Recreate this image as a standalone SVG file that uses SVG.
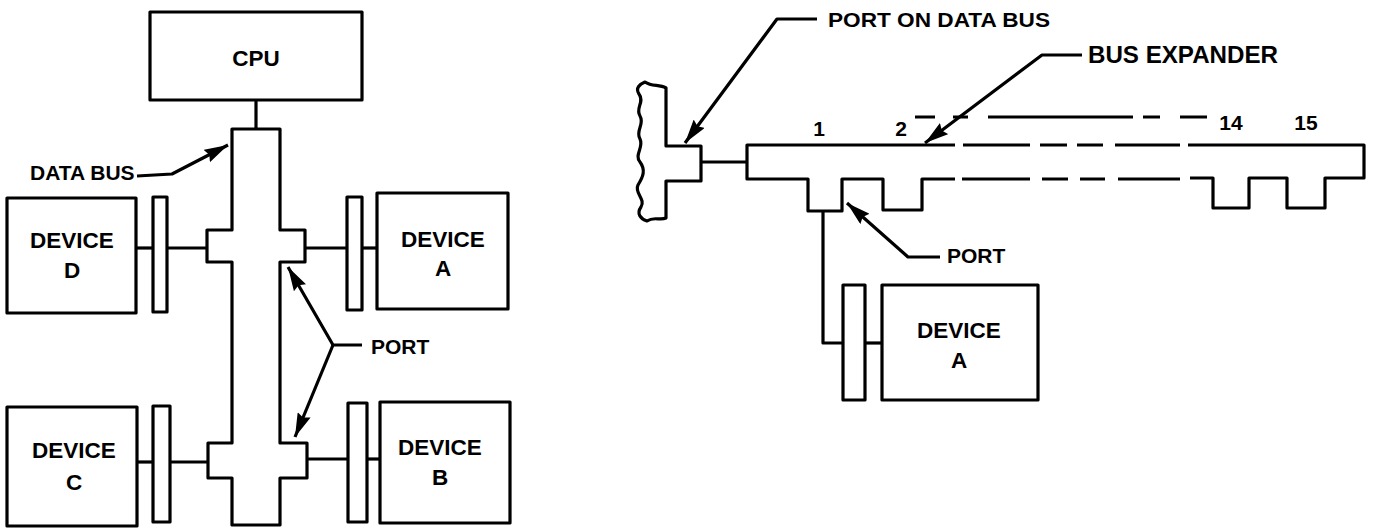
<svg xmlns="http://www.w3.org/2000/svg" width="1377" height="529" viewBox="0 0 1377 529">
<defs>
<style>
.s{fill:#fff;stroke:#000;stroke-width:3.2;stroke-linejoin:round}
.l{fill:none;stroke:#000;stroke-width:3.2;stroke-linejoin:round;stroke-linecap:butt}
.t{font-family:"Liberation Sans",Arial,sans-serif;font-weight:bold;font-size:21px;fill:#000}
.d{font-size:22.5px}
.c{text-anchor:middle}
</style>
<marker id="ah" viewBox="0 0 24 14" refX="24" refY="7" markerWidth="24" markerHeight="14" markerUnits="userSpaceOnUse" orient="auto">
<path d="M0,0 L24,7 L0,14 L3,7 Z" fill="#000"/>
</marker>
</defs>
<rect width="1377" height="529" fill="#fff"/>

<g id="connectors">
<line class="l" x1="256" y1="101" x2="256" y2="129"/>
<line class="l" x1="136" y1="248" x2="153" y2="248"/>
<line class="l" x1="167" y1="248" x2="207" y2="248"/>
<line class="l" x1="305" y1="248" x2="347" y2="248"/>
<line class="l" x1="362" y1="248" x2="377" y2="248"/>
<line class="l" x1="137" y1="462" x2="153" y2="462"/>
<line class="l" x1="170" y1="462" x2="208" y2="462"/>
<line class="l" x1="307" y1="459" x2="348" y2="459"/>
<line class="l" x1="367" y1="459" x2="380" y2="459"/>
<polyline class="l" points="137,176 172,174 228,145" marker-end="url(#ah)"/>
<polyline class="l" points="362,345 333,345 288,267" marker-end="url(#ah)"/>
<line class="l" x1="333" y1="345" x2="295" y2="437" marker-end="url(#ah)"/>
<line class="l" x1="701" y1="162" x2="747" y2="162"/>
<polyline class="l" points="823,211 823,343 843,343"/>
<line class="l" x1="865" y1="343" x2="882" y2="343"/>
<polyline class="l" points="817,19 777,19 685,143" marker-end="url(#ah)"/>
<polyline class="l" points="1082,55 1042,55 925,143" marker-end="url(#ah)"/>
<polyline class="l" points="940,257 908,257 847,203" marker-end="url(#ah)"/>
</g>

<g id="cpu">
<rect class="s" x="150" y="12" width="212" height="88"/>
<text class="t d c" x="256" y="66">CPU</text>
</g>

<g id="data-bus">
<path class="s" d="M232,129 L280,129 L280,230 L305,230 L305,262 L280,262 L280,443 L307,443 L307,478 L280,478 L280,525 L232,525 L232,478 L208,478 L208,443 L232,443 L232,262 L207,262 L207,230 L232,230 Z"/>
<text class="t" x="30" y="180">DATA BUS</text>
</g>

<g id="device-d">
<rect class="s" x="7" y="198" width="129" height="115"/>
<rect class="s" x="153" y="197" width="14" height="115"/>
<text class="t d c" x="72" y="248">DEVICE</text>
<text class="t d c" x="72" y="278">D</text>
</g>

<g id="device-a-left">
<rect class="s" x="377" y="193" width="131" height="116"/>
<rect class="s" x="347" y="197" width="15" height="113"/>
<text class="t d c" x="443" y="247">DEVICE</text>
<text class="t d c" x="443" y="276">A</text>
</g>

<g id="device-c">
<rect class="s" x="7" y="407" width="130" height="119"/>
<rect class="s" x="153" y="406" width="17" height="116"/>
<text class="t d c" x="74" y="458">DEVICE</text>
<text class="t d c" x="74" y="490">C</text>
</g>

<g id="device-b">
<rect class="s" x="380" y="402" width="130" height="121"/>
<rect class="s" x="348" y="403" width="19" height="119"/>
<text class="t d c" x="440" y="455">DEVICE</text>
<text class="t d c" x="440" y="485">B</text>
</g>

<g id="port-label-left">
<text class="t" x="371" y="354">PORT</text>
</g>

<g id="port-on-data-bus">
<path class="s" d="M645,82 C652,87 659,84 666,88 L666,146 L701,146 L701,181 L666,181 L666,218 C660,221 654,216 647,221 C641,219 636,214 641,207 C646,199 634,193 638,185 C643,177 646,170 640,162 C634,155 644,147 640,139 C635,131 645,124 640,116 C635,108 645,102 639,94 C635,88 640,84 645,82 Z"/>
<text class="t" x="828" y="27" textLength="222" lengthAdjust="spacingAndGlyphs">PORT ON DATA BUS</text>
</g>

<g id="bus-expander">
<path class="l" d="M955,145 L747,145 L747,179 L808,179 L808,211 L842,211 L842,179 L883,179 L883,210 L922,210 L922,179 L955,179"/>
<path class="l" d="M963,145 H1030 M1040,145 H1067 M1077,145 H1103 M1115,145 H1180 M962,179 H1030 M1042,179 H1068 M1080,179 H1105 M1118,179 H1180"/>
<path class="l" d="M1188,145 L1364,145 L1364,178 L1325,178 L1325,208 L1287,208 L1287,178 L1249,178 L1249,208 L1213,208 L1213,178 L1190,178"/>
<path class="l" d="M915,117 H935 M953,117 H968 M988,117 H1133 M1143,117 H1160 M1180,117 H1207"/>
<text class="t" x="1088" y="63" style="font-size:23px" textLength="190" lengthAdjust="spacingAndGlyphs">BUS EXPANDER</text>
<text class="t c" x="819" y="136">1</text>
<text class="t c" x="901" y="136">2</text>
<text class="t c" x="1231" y="130">14</text>
<text class="t c" x="1306" y="130">15</text>
</g>

<g id="port-label-right">
<text class="t" x="947" y="263">PORT</text>
</g>

<g id="device-a-right">
<rect class="s" x="882" y="285" width="156" height="115"/>
<rect class="s" x="843" y="285" width="22" height="115"/>
<text class="t d c" x="959" y="338">DEVICE</text>
<text class="t d c" x="959" y="368">A</text>
</g>
</svg>
